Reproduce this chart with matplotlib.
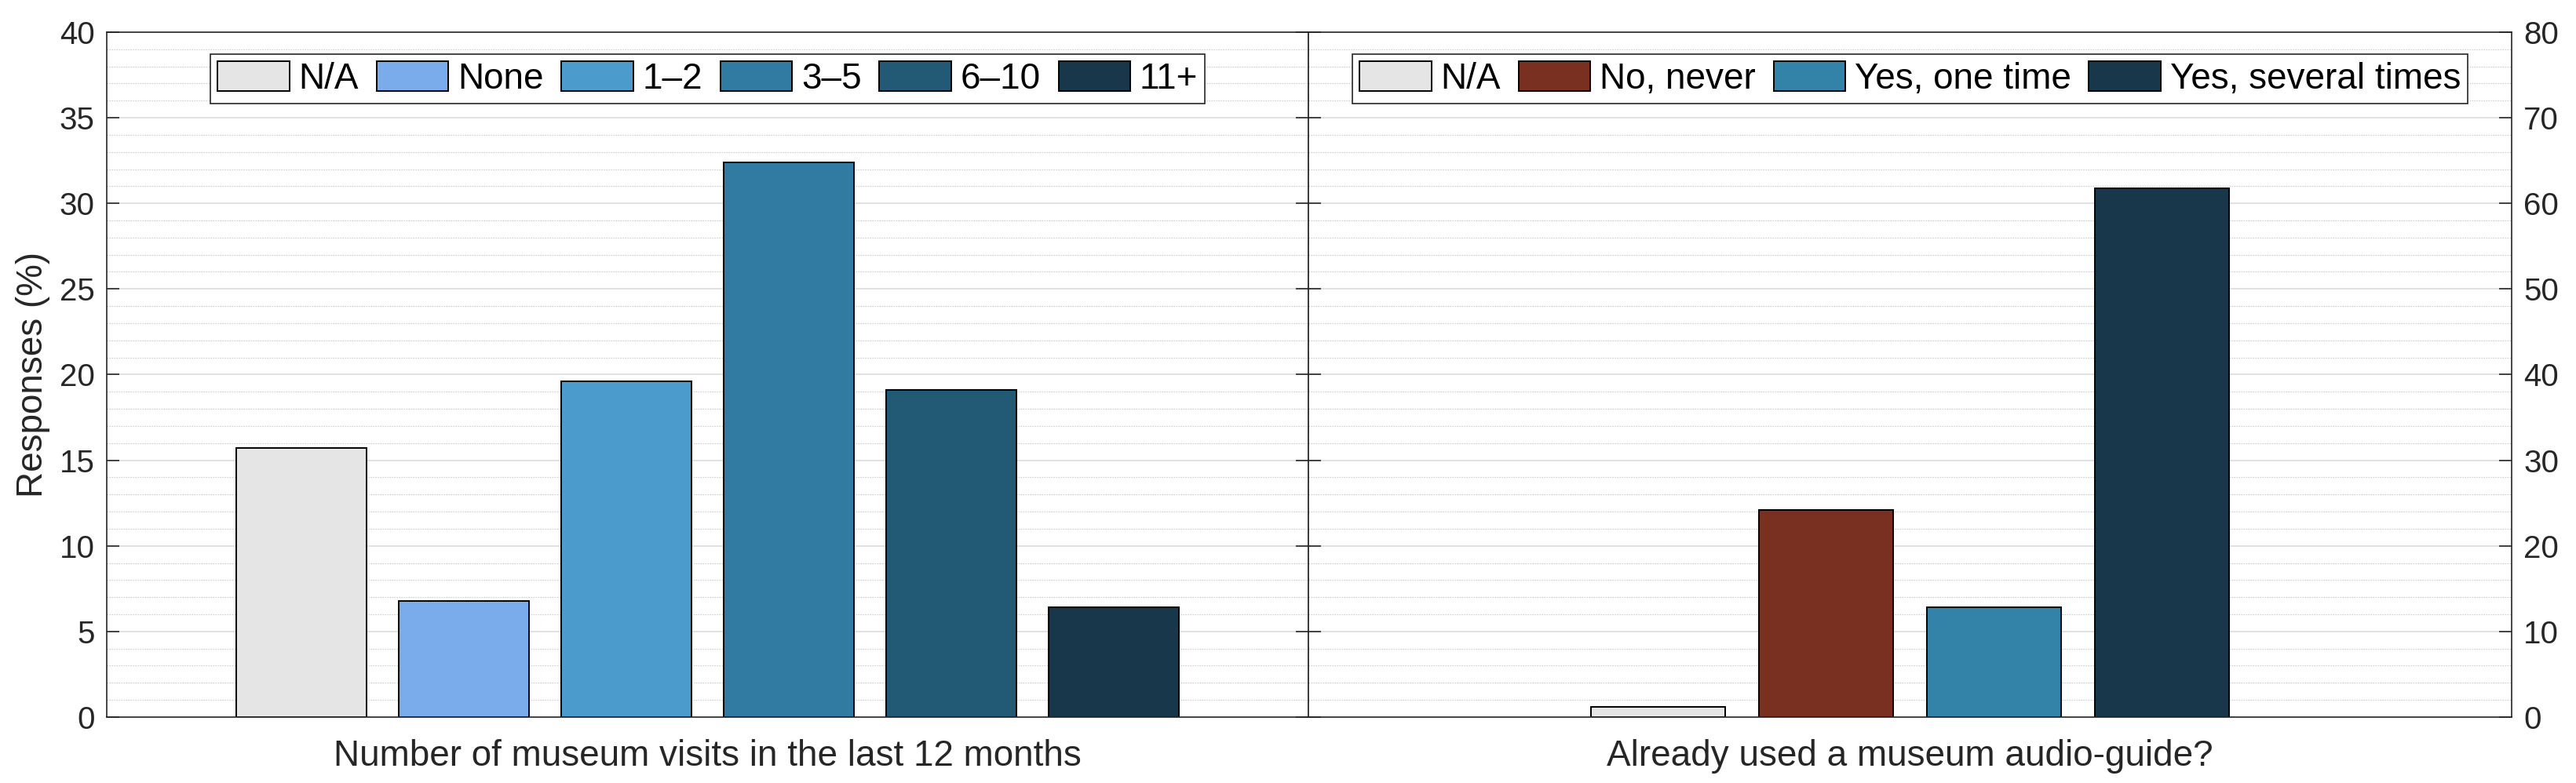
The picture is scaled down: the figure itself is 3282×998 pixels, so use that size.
import numpy as np
import matplotlib
matplotlib.use("Agg")
import matplotlib.pyplot as plt
from matplotlib.ticker import MultipleLocator

plt.rcParams['font.family'] = ['Liberation Sans', 'DejaVu Sans']

# left panel: museum visits in the last 12 months
visit_labels = ["N/A", "None", "1–2", "3–5", "6–10", "11+"]
visit_values = [15.7, 6.8, 19.6, 32.4, 19.1, 6.4]
visit_colors = ["#e5e5e5", "#7aabeb", "#4b9ccd", "#317ba3", "#225a75", "#19374a"]

# right panel: audio-guide use
guide_labels = ["N/A", "No, never", "Yes, one time", "Yes, several times"]
guide_values = [1.2, 24.2, 12.8, 61.8]
guide_colors = ["#e5e5e5", "#7a3020", "#3383a8", "#18374a"]

dark = "#262626"

fig = plt.figure(figsize=(16.41, 4.99), dpi=200)
ax1 = fig.add_axes([0.0414, 0.0842, 0.4666, 0.8748])
ax2 = fig.add_axes([0.5080, 0.0842, 0.4670, 0.8748])


def style_axis(ax, ymax, major, minor):
    ax.set_ylim(0, ymax)
    ax.yaxis.set_major_locator(MultipleLocator(major))
    ax.yaxis.set_minor_locator(MultipleLocator(minor))
    ax.set_xticks([])
    ax.set_axisbelow(True)
    ax.grid(which='major', axis='y', color='#dcdcdc', linewidth=0.6)
    ax.grid(which='minor', axis='y', color='#c4c4c4', linewidth=0.4,
            linestyle=(0, (1.2, 1.5)))
    for s in ax.spines.values():
        s.set_color(dark)
        s.set_linewidth(0.6)
    ax.tick_params(axis='y', which='major', direction='in', length=5.8,
                   width=0.6, color=dark, labelsize=14.5, labelcolor=dark,
                   left=True, right=True, pad=5.5)
    ax.tick_params(axis='y', which='minor', length=0)


def draw(ax, labels, values, colors, xlim):
    x = np.arange(1, len(values) + 1)
    for xi, v, c, lab in zip(x, values, colors, labels):
        ax.bar(xi, v, width=0.8, color=c, edgecolor='black', linewidth=0.7,
               label=lab)
    ax.set_xlim(*xlim)
    leg = ax.legend(loc='upper center', bbox_to_anchor=(0.5, 0.968),
                    ncol=len(values), fontsize=16.5, frameon=True,
                    fancybox=False, framealpha=1, edgecolor=dark,
                    borderaxespad=0, handlelength=2.0, handleheight=0.9,
                    handletextpad=0.25, columnspacing=0.5, borderpad=0.2)
    leg.get_frame().set_linewidth(0.6)


style_axis(ax1, 40, 5, 1)
style_axis(ax2, 80, 10, 2)
ax2.tick_params(axis='y', which='major', labelleft=False, labelright=True)

draw(ax1, visit_labels, visit_values, visit_colors, (-0.2, 7.2))
draw(ax2, guide_labels, guide_values, guide_colors, (-1.08, 6.08))

ax1.set_ylabel("Responses (%)", fontsize=16.5, color=dark, labelpad=4)
ax1.set_xlabel("Number of museum visits in the last 12 months", fontsize=16.5,
               color=dark, labelpad=10)
ax2.set_xlabel("Already used a museum audio-guide?", fontsize=16.5,
               color=dark, labelpad=10)

fig.savefig("out.png", dpi=200)
